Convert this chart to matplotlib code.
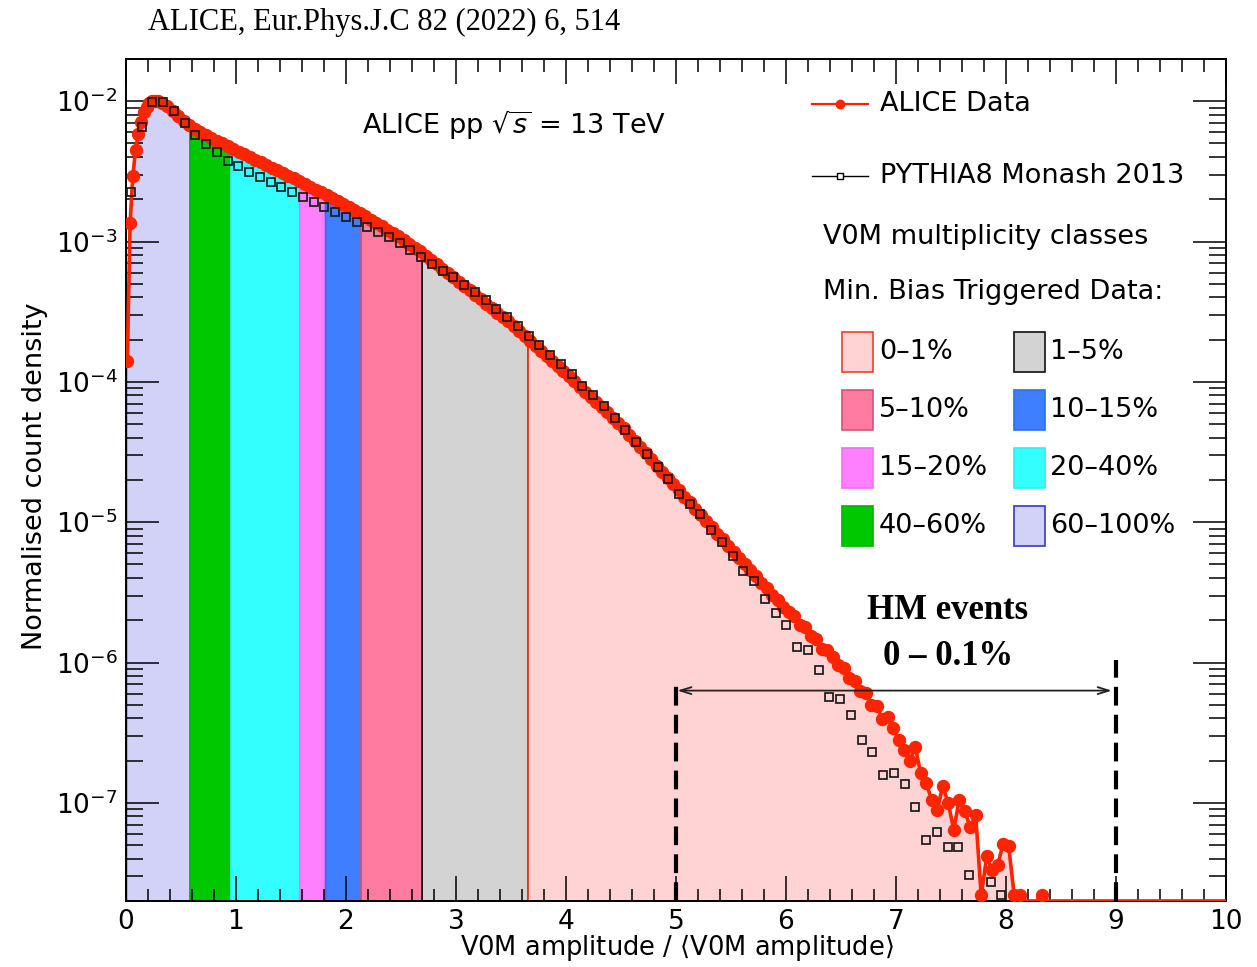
import numpy as np
import matplotlib.pyplot as plt
from matplotlib.patches import Rectangle
from matplotlib.ticker import MultipleLocator, LogLocator, NullFormatter

plt.rcParams['font.family'] = 'DejaVu Sans'
plt.rcParams['mathtext.fontset'] = 'dejavusans'

# ALICE data: bin centres and log10(normalised count density), NaN = empty bin
alice_x = np.r_[np.arange(0.0125, 0.3, 0.025), np.arange(0.325, 8.4, 0.05)]
alice_log10 = [
    -3.85, -2.87, -2.53, -2.345, -2.23, -2.15, -2.08, -2.04, -2.01, -2.0, -2.0, -2.0,
    -2.01, -2.035, -2.07, -2.105, -2.14, -2.17, -2.195, -2.218, -2.24, -2.26,
    -2.28, -2.30, -2.32, -2.34, -2.36, -2.379, -2.398, -2.417, -2.436, -2.455,
    -2.474, -2.493, -2.512, -2.531, -2.55, -2.57, -2.59, -2.61, -2.63, -2.65,
    -2.67, -2.69, -2.71, -2.73,
    -2.752, -2.775, -2.798, -2.821, -2.845, -2.868, -2.892, -2.916, -2.940, -2.963,
    -2.989, -3.016, -3.043, -3.070, -3.100, -3.131, -3.162, -3.193, -3.224, -3.255,
    -3.285, -3.317, -3.348, -3.380, -3.412, -3.443, -3.475, -3.506, -3.538, -3.569,
    -3.602, -3.638, -3.674, -3.709, -3.745, -3.780, -3.816, -3.851, -3.887, -3.922,
    -3.958, -3.996, -4.033, -4.070, -4.107, -4.144, -4.181, -4.218, -4.255, -4.292,
    -4.331, -4.376, -4.420, -4.464, -4.508, -4.552, -4.596, -4.640, -4.684, -4.728,
    -4.772, -4.818, -4.858, -4.906, -4.946, -4.994, -5.034, -5.082, -5.122, -5.170,
    -5.210, -5.258, -5.296, -5.344, -5.382, -5.430, -5.466, -5.516, -5.552, -5.602,
    -5.64, -5.67, -5.73, -5.75, -5.81, -5.83, -5.90, -5.91, -5.96, -6.02,
    -6.04, -6.11, -6.13, -6.20, -6.22, -6.30, -6.31, -6.40, -6.39, -6.47,
    -6.55, -6.62, -6.70, -6.60, -6.79, -6.86, -6.98, -7.05, -6.88, -7.00,
    -7.19, -6.98, -7.06, -7.17, -7.09, -7.66, -7.38, -7.48, -7.44, -7.29,
    -7.31, -7.66, -7.66, np.nan, np.nan, np.nan, -7.66, np.nan,
]

# PYTHIA8 Monash 2013: log10(normalised count density)
pythia_log10 = [
    -2.65, -2.186, -2.003, -2.003, -2.067, -2.155, -2.24, -2.304, -2.364, -2.423,
    -2.459, -2.506, -2.542, -2.578, -2.613, -2.649, -2.684, -2.716, -2.752, -2.791,
    -2.827, -2.862, -2.898, -2.934, -2.969, -3.01, -3.058, -3.108, -3.159, -3.207,
    -3.254, -3.313, -3.361, -3.42, -3.479, -3.539, -3.605, -3.67, -3.734, -3.805,
    -3.876, -3.947, -4.026, -4.097, -4.172, -4.257, -4.346, -4.43, -4.517, -4.603,
    -4.69, -4.797, -4.873, -4.94, -5.053, -5.142, -5.244, -5.348, -5.42, -5.545,
    -5.65, -5.735, -5.89, -5.913, -6.056, -6.246, -6.257, -6.376, -6.554, -6.638,
    -6.804, -6.79, -6.863, -7.03, -7.266, -7.207, -7.314, -7.314, -7.516, np.nan,
    -7.563, -7.66,
]
pythia_x = 0.045 + 0.0977 * np.arange(len(pythia_log10))

# V0M multiplicity classes and their edges in V0M / <V0M>
class_labels = ['0–1%', '1–5%', '5–10%', '10–15%', '15–20%', '20–40%', '40–60%', '60–100%']
class_lo = [3.652, 2.688, 2.133, 1.81, 1.576, 0.95, 0.58, 0.0]
class_hi = [10.0, 3.652, 2.688, 2.133, 1.81, 1.576, 0.95, 0.58]
class_fill = ['#FFD3D3', '#D3D3D3', '#FF7BA0', '#3F7FFF', '#FF80FF', '#33FFFF', '#00C800', '#D2D2F8']
class_edge = ['#E8452C', '#111111', '#D8507C', '#2F6FEF', '#F070F0', '#2CF0F0', '#00B400', '#3838C8']

# high-multiplicity (0-0.1%) range
hm_range = [5.0, 9.0]

x_min, x_max = 0.0, 10.0
y_min, y_max = 2e-8, 2e-2
red = '#FF2400'

alice_y = 10.0 ** np.array(alice_log10)
pythia_y = 10.0 ** np.array(pythia_log10)
alice_floor = np.where(np.isnan(alice_y), y_min, alice_y)

fig = plt.figure(figsize=(12.57, 9.67), dpi=100)
ax = fig.add_axes([0.1002, 0.0683, 0.8751, 0.8707])
ax.set_yscale('log')
ax.set_xlim(x_min, x_max)
ax.set_ylim(y_min, y_max)

# class areas under the data, drawn left to right so each left edge stays on top
for lo, hi, fc, ec in reversed(list(zip(class_lo, class_hi, class_fill, class_edge))):
    inside = (alice_x > lo) & (alice_x < hi)
    xs = np.r_[lo, alice_x[inside], hi]
    ys = 10 ** np.interp(xs, alice_x, np.log10(alice_floor))
    ax.fill_between(xs, y_min, ys, facecolor=fc, edgecolor=ec, linewidth=1.2, zorder=1)

# data and model
ax.plot(np.r_[alice_x, x_max], np.r_[alice_floor, y_min], color=red, lw=2.6, zorder=3)
ax.plot(alice_x, alice_y, ls='none', marker='o', ms=8.6, color=red, zorder=3)
ax.plot(pythia_x, pythia_y, ls='none', marker='s', ms=6.4, mfc='none',
        mec='#1a1a1a', mew=1.25, zorder=4)

# HM event selection
ax.vlines(hm_range, y_min, [10 ** -6.15, 10 ** -5.98], colors='black',
          linestyles=(0, (4.5, 2.2)), linewidth=3, zorder=5)
ax.annotate('', xy=(hm_range[1], 10 ** -6.2), xytext=(hm_range[0], 10 ** -6.2),
            arrowprops=dict(arrowstyle='<->,head_length=0.8,head_width=0.25',
                            lw=1.3, color='#222222', shrinkA=1, shrinkB=3), zorder=5)
ax.text(7.47, 10 ** -5.63, 'HM events', family='Liberation Serif', weight='bold',
        fontsize=25, ha='center', va='center')
ax.text(7.47, 10 ** -5.96, '0 – 0.1%', family='Liberation Serif', weight='bold',
        fontsize=25, ha='center', va='center')

# axes in ROOT style
ax.xaxis.set_major_locator(MultipleLocator(1))
ax.xaxis.set_minor_locator(MultipleLocator(0.2))
ax.yaxis.set_major_locator(LogLocator(base=10, numticks=20))
ax.yaxis.set_minor_locator(LogLocator(base=10, subs=np.arange(2, 10), numticks=20))
ax.yaxis.set_minor_formatter(NullFormatter())
ax.tick_params(which='both', direction='in', top=True, right=True, width=1.1, labelsize=19)
ax.tick_params(axis='x', which='major', length=18, pad=6)
ax.tick_params(axis='x', which='minor', length=9)
ax.tick_params(axis='y', which='major', length=24, pad=6)
ax.tick_params(axis='y', which='minor', length=12)
for s in ax.spines.values():
    s.set_linewidth(1.4)

ax.set_xlabel(r'V0M amplitude / $\langle$V0M amplitude$\rangle$', fontsize=18.5)
ax.xaxis.set_label_coords(0.501, -0.0555)
ax.xaxis.label.set_va('center')
ax.set_ylabel('Normalised count density', fontsize=19.5)
ax.yaxis.set_label_coords(-0.0827, 0.504)
ax.yaxis.label.set_va('center')

ax.text(0.2145, 0.9216, r'ALICE pp $\sqrt{s}$ = 13 TeV', transform=ax.transAxes,
        fontsize=19.5, ha='left', va='center')

# legend
tr = ax.transAxes
ax.plot([0.6236, 0.6745], [0.9466, 0.9466], transform=tr, color=red, lw=1.6, clip_on=False)
ax.plot([0.649], [0.9466], transform=tr, marker='o', ms=6, color=red, clip_on=False)
ax.text(0.6855, 0.9466, 'ALICE Data', transform=tr, va='center', fontsize=19.5)
ax.plot([0.6236, 0.6745], [0.861, 0.861], transform=tr, color='black', lw=1.0, clip_on=False)
ax.plot([0.649], [0.861], transform=tr, marker='s', ms=4.5, mfc='white', mec='black',
        mew=1.0, clip_on=False)
ax.text(0.6855, 0.861, 'PYTHIA8 Monash 2013', transform=tr, va='center', fontsize=19.5)
ax.text(0.6336, 0.7886, 'V0M multiplicity classes', transform=tr, va='center', fontsize=19.5)
ax.text(0.6336, 0.7233, 'Min. Bias Triggered Data:', transform=tr, va='center', fontsize=19.5)

box_cols = [(0.651, 0.6845), (0.807, 0.84)]
box_rows = [0.652, 0.5831, 0.5143, 0.4454]
box_w, box_h = 0.0282, 0.0475
for i, (lab, fc, ec) in enumerate(zip(class_labels, class_fill, class_edge)):
    bx, tx = box_cols[i % 2]
    by = box_rows[i // 2]
    ax.add_patch(Rectangle((bx, by - box_h / 2), box_w, box_h, transform=tr,
                           facecolor=fc, edgecolor=ec, lw=1.2, clip_on=False))
    ax.text(tx, by, lab, transform=tr, va='center', fontsize=19.5)

fig.text(148 / 1257, 1 - 22 / 967, 'ALICE, Eur.Phys.J.C 82 (2022) 6, 514',
         family='Liberation Serif', fontsize=22, ha='left', va='center')

fig.savefig('out.png', dpi=100)
